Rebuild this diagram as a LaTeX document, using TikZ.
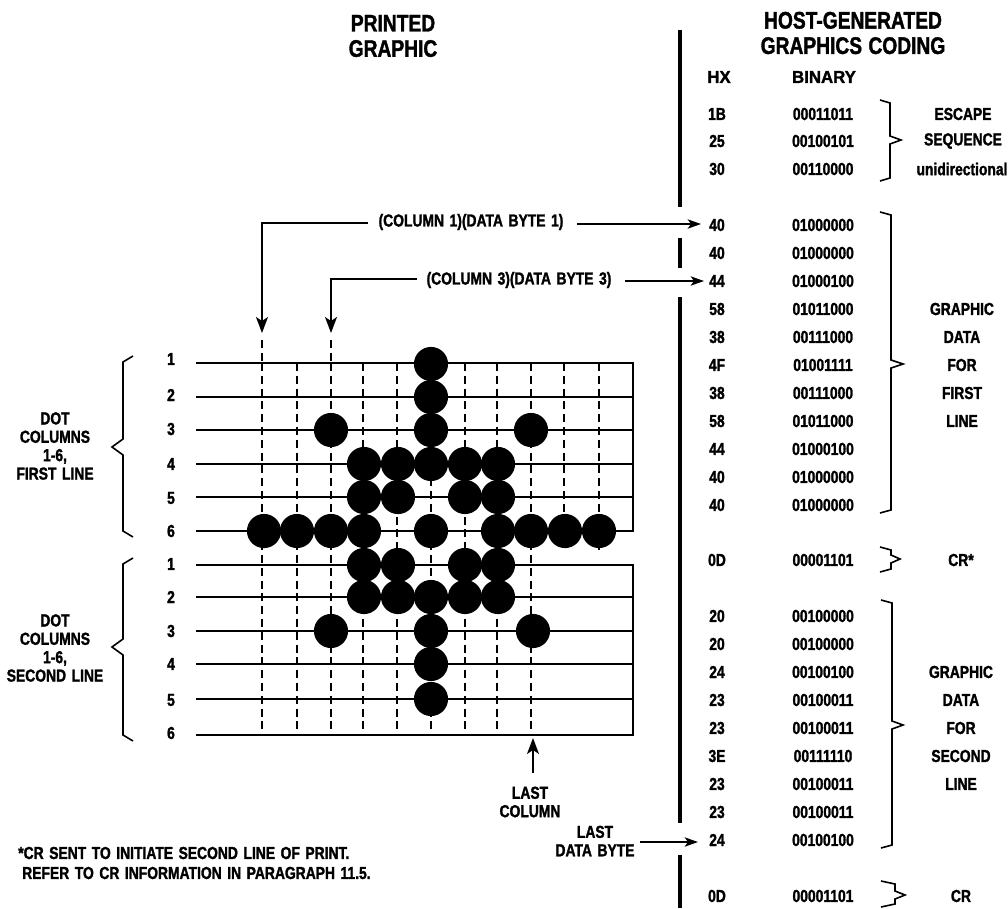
\documentclass[tikz,border=0pt]{standalone}
\usepackage{fontspec}
\setmainfont{Liberation Sans}
\newfontfamily\condfont{Liberation Sans Bold}[FakeStretch=0.8,FakeBold=1.5,WordSpace=1.7]
\newfontfamily\notefont{Liberation Sans Bold}[FakeStretch=0.8,FakeBold=1.5,WordSpace=1.2]
\newfontfamily\widefont{Liberation Sans Bold}[FakeStretch=0.97,FakeBold=1.5]
\usetikzlibrary{arrows.meta}
\tikzset{
  x=0.75pt,y=-0.75pt,
  txt/.style={font=\fontsize{13pt}{14pt}\selectfont\condfont,inner sep=0pt,text=black},
  hdr/.style={font=\fontsize{13pt}{14pt}\selectfont\widefont,inner sep=0pt,text=black},
  note/.style={font=\fontsize{13pt}{14pt}\selectfont\notefont,inner sep=0pt,text=black},
  title/.style={font=\fontsize{18pt}{19pt}\selectfont\condfont,inner sep=0pt,align=center,text=black},
  multi/.style={align=center,inner sep=0pt,text=black,font=\fontsize{13pt}{13.8pt}\selectfont\notefont},
  gridline/.style={line width=1.5pt,black},
  dashcol/.style={line width=1.5pt,black,dash pattern=on 6pt off 3.6pt},
  dotmark/.style={circle,fill=black,draw=none,minimum size=25.6pt,inner sep=0pt},
  rulebar/.style={line width=3.6pt,black},
  brace/.style={line width=1.2pt,black,line join=miter},
  lead/.style={line width=1.2pt,black},
  arr/.style={lead,-{Stealth[length=10pt,width=7pt,inset=2.5pt]}},
  arrv/.style={lead,-{Stealth[length=12pt,width=9pt,inset=3pt]}}
}
\begin{document}
\begin{tikzpicture}
\useasboundingbox (0,0) rectangle (1008,908);
\fill[white] (0,0) rectangle (1008,908);
% titles
\node[title] (t1) at (393,36) {PRINTED\\GRAPHIC};
\node[title] (t2) at (853,33) {HOST-GENERATED\\GRAPHICS CODING};
% vertical bar
\coordinate (b1) at (680,30); \coordinate (b2) at (680,207);
\coordinate (b3) at (680,238); \coordinate (b4) at (680,268);
\coordinate (b5) at (680,297); \coordinate (b6) at (680,823);
\coordinate (b7) at (680,855); \coordinate (b8) at (680,908);
\draw[rulebar] (b1) -- (b2);
\draw[rulebar] (b3) -- (b4);
\draw[rulebar] (b5) -- (b6);
\draw[rulebar] (b7) -- (b8);
% grid lines
\foreach \n/\y/\ly/\lab in {a1/363/359/1,a2/397/395/2,a3/430/429/3,a4/464/464/4,a5/497/498/5,a6/531/531/6,c1/565/564/1,c2/597/597/2,c3/631/631/3,c4/664/664/4,c5/699/700/5,c6/735/733/6}{
  \node[txt] (n\n) at (171,\ly) {\lab};
  \coordinate (l\n) at (196,\y);
  \coordinate (r\n) at (633,\y);
  \draw[gridline] (l\n) -- (r\n);
}
\draw[gridline,line width=2pt,line cap=rect] (ra1) -- (ra6);
\draw[gridline,line width=2pt,line cap=rect] (rc1) -- (rc6);
% dashed columns
\foreach \n/\x in {1/262,2/297,3/331,4/363,5/397,6/431,7/465,8/497,9/531}{
  \coordinate (dt\n) at (\x,363); \coordinate (db\n) at (\x,735);
  \draw[dashcol] (dt\n) -- (db\n);
}
\coordinate (dt10) at (564,363); \coordinate (db10) at (564,531);
\draw[dashcol] (dt10) -- (db10);
\coordinate (dt11) at (599,363); \coordinate (db11) at (599,552);
\draw[dashcol] (dt11) -- (db11);
\coordinate (up1) at (262,333); \coordinate (up3) at (331,333);
\coordinate (ud1) at (262,340); \coordinate (ud3) at (331,340);
\draw[dashcol] (ud1) -- (dt1);
\draw[dashcol] (ud3) -- (dt3);
% dots
\foreach \i/\x/\y in {
 1/431/364,2/431/397,3/331/430,4/431/430,5/531/430,
 6/364/464,7/398/464,8/431/464,9/465/464,10/498/464,
 11/364/497,12/398/497,13/465/497,14/498/497,
 15/264/531,16/297/531,17/331/531,18/364/531,19/431/531,20/498/531,21/531/531,22/565/531,23/599/531,
 24/364/565,25/398/565,26/465/565,27/498/565,
 28/364/597,29/398/597,30/431/597,31/465/597,32/498/597,
 33/331/631,34/431/631,35/533/631,36/431/664,37/431/699}{
  \node[dotmark] (dot\i) at (\x,\y) {};
}
% left braces
\coordinate (lb1a) at (133,356); \coordinate (lb1b) at (123,362); \coordinate (lb1c) at (123,439);
\coordinate (lb1d) at (112,447); \coordinate (lb1e) at (123,455); \coordinate (lb1f) at (123,531); \coordinate (lb1g) at (133,537);
\draw[brace] (lb1a) -- (lb1b) -- (lb1c) -- (lb1d) -- (lb1e) -- (lb1f) -- (lb1g);
\coordinate (lb2a) at (133,558); \coordinate (lb2b) at (123,564); \coordinate (lb2c) at (123,639);
\coordinate (lb2d) at (112,647); \coordinate (lb2e) at (123,655); \coordinate (lb2f) at (123,735); \coordinate (lb2g) at (133,741);
\draw[brace] (lb2a) -- (lb2b) -- (lb2c) -- (lb2d) -- (lb2e) -- (lb2f) -- (lb2g);
\node[multi] (dc1) at (55,446) {DOT\\COLUMNS\\1-6,\\FIRST LINE};
\node[multi] (dc2) at (55,648) {DOT\\COLUMNS\\1-6,\\SECOND LINE};
% table
\node[hdr] (hx) at (719,77) {HX};
\node[hdr] (bin) at (824,77) {BINARY};
\foreach \n/\y/\h/\b in {
 r1/114/1B/00011011,r2/141/25/00100101,r3/169/30/00110000,
 r4/225/40/01000000,r5/253/40/01000000,r6/281/44/01000100,r7/309/58/01011000,
 r8/337/38/00111000,r9/365/4F/01001111,r10/393/38/00111000,r11/421/58/01011000,
 r12/449/44/01000100,r13/477/40/01000000,r14/505/40/01000000,r15/560/0D/00001101,
 r16/616/20/00100000,r17/644/20/00100000,r18/672/24/00100100,r19/700/23/00100011,
 r20/728/23/00100011,r21/756/3E/00111110,r22/784/23/00100011,r23/812/23/00100011,
 r24/840/24/00100100,r25/896/0D/00001101}{
  \node[txt] (h\n) at (717,\y) {\h};
  \node[txt] (b\n) at (823,\y) {\b};
}
% side labels
\foreach \n/\x/\y/\t in {s1/963/114/ESCAPE,s2/963/141/SEQUENCE,s3/962/169/unidirectional,
 s4/962/309/GRAPHIC,s5/962/337/DATA,s6/962/365/FOR,s7/962/393/FIRST,s8/962/421/LINE,
 s9/961/560/CR*,s10/961/672/GRAPHIC,s11/961/700/DATA,s12/961/728/FOR,s13/961/756/SECOND,s14/961/784/LINE,s15/961/896/CR}{
  \node[txt] (\n) at (\x,\y) {\t};
}
% right braces
\foreach \n/\xa/\xb/\xc/\ya/\yc/\yb in {rb1/880/890/901/100/140/181,rb2/880/891/903/212/364/513,rb3/880/891/900/547/559/572,rb4/881/892/903/600/725/848,rb5/881/895/905/881/895/907}{
  \coordinate (\n a) at (\xa,\ya);
  \coordinate (\n b) at (\xb,\ya+3);
  \coordinate (\n c) at (\xb,\yc-4);
  \coordinate (\n d) at (\xc,\yc);
  \coordinate (\n e) at (\xb,\yc+4);
  \coordinate (\n f) at (\xb,\yb-3);
  \coordinate (\n g) at (\xa,\yb);
  \draw[brace] (\n a) -- (\n b) -- (\n c) -- (\n d) -- (\n e) -- (\n f) -- (\n g);
}
% call-outs
\node[txt] (c1) at (471,222) {(COLUMN 1)(DATA BYTE 1)};
\node[txt] (c3) at (519,280) {(COLUMN 3)(DATA BYTE 3)};
\coordinate (c1l) at (368,223); \coordinate (c1k) at (262,223); \coordinate (c1r) at (577,224); \coordinate (c1t) at (701,224);
\coordinate (c3l) at (417,279); \coordinate (c3k) at (331,279); \coordinate (c3r) at (625,281); \coordinate (c3t) at (704,281);
\draw[arrv] (c1l) -- (c1k) -- (up1);
\draw[arr] (c1r) -- (c1t);
\draw[arrv] (c3l) -- (c3k) -- (up3);
\draw[arr] (c3r) -- (c3t);
\node[multi] (lastc) at (530,802) {LAST\\COLUMN};
\coordinate (lc1) at (533,773); \coordinate (lc2) at (533,738);
\draw[arrv] (lc1) -- (lc2);
\node[multi] (lastd) at (595,841) {LAST\\DATA BYTE};
\coordinate (ld1) at (640,842); \coordinate (ld2) at (698,842);
\draw[arr] (ld1) -- (ld2);
\node[note,anchor=west] (f1) at (18,853) {*CR SENT TO INITIATE SECOND LINE OF PRINT.};
\node[note,anchor=west] (f2) at (22,873) {REFER TO CR INFORMATION IN PARAGRAPH 11.5.};
\end{tikzpicture}
\end{document}
